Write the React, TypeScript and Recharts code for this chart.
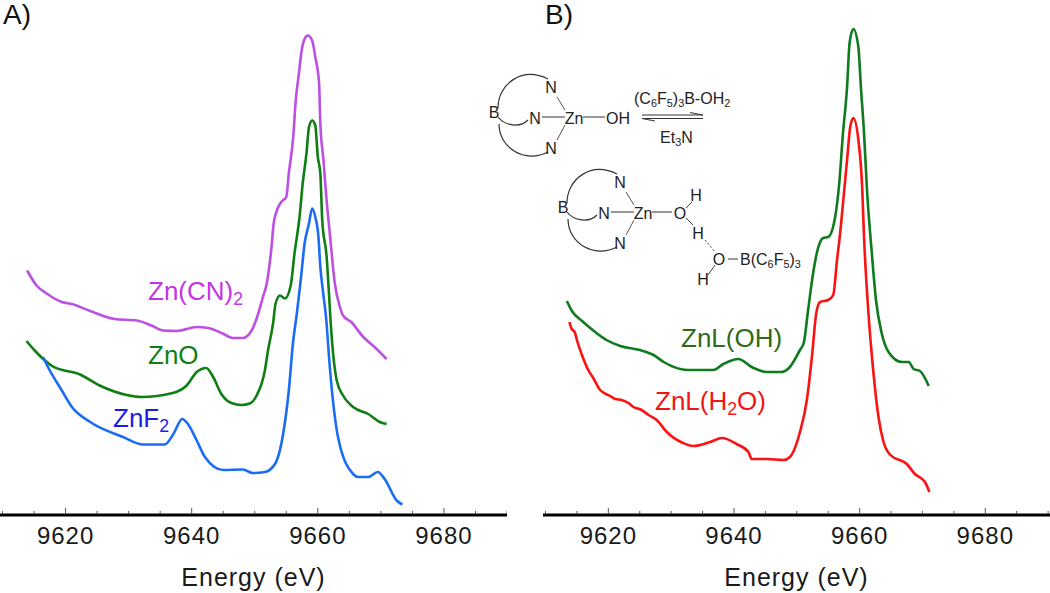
import React from 'react';
import { LineChart, Line, XAxis, YAxis } from 'recharts';

// Zn K-edge XAS traces, signal is in arbitrary units (offset for display)
const tickEnergies = [9610, 9615, 9620, 9625, 9630, 9635, 9640, 9645, 9650, 9655, 9660, 9665, 9670, 9675, 9680, 9685, 9690];
const labelledTicks = [9620, 9640, 9660, 9680];

const znCnEnergy = [9613.9, 9615.4, 9617.0, 9619.4, 9621.0, 9623.9, 9627.8, 9631.3, 9633.6, 9635.5, 9637.6, 9640.8, 9642.6, 9644.9, 9646.5, 9648.1, 9649.5, 9650.3, 9651.3, 9651.9, 9652.6, 9653.0, 9653.5, 9654.2, 9655.0, 9655.4, 9656.1, 9656.5, 9657.0, 9657.4, 9657.9, 9658.4, 9659.1, 9659.6, 9660.2, 9660.4, 9660.9, 9661.3, 9661.9, 9662.7, 9663.5, 9664.0, 9665.3, 9667.2, 9669.0, 9670.9];
const znCnSignal = [244.5, 229.5, 221.5, 213, 211, 204, 196, 194.5, 189.5, 184.5, 184, 188, 187, 181.5, 177, 177, 184.5, 196.5, 218, 231.5, 264.5, 291.5, 304.5, 313, 318, 341.5, 378, 414.5, 441.5, 463, 476, 479.5, 474.5, 458, 431.5, 391.5, 354.5, 321.5, 281.5, 231.5, 208, 199.5, 193, 178, 168, 156];

const znOEnergy = [9613.8, 9615.1, 9618.0, 9622.3, 9625.4, 9629.7, 9632.0, 9637.0, 9639.2, 9640.8, 9642.3, 9643.4, 9644.7, 9646.3, 9647.9, 9649.2, 9650.3, 9651.6, 9652.1, 9652.9, 9653.3, 9654.0, 9654.8, 9655.7, 9656.3, 9657.1, 9657.6, 9658.2, 9658.6, 9659.1, 9659.6, 9660.0, 9660.4, 9660.7, 9661.4, 9661.8, 9662.0, 9663.0, 9664.0, 9665.6, 9668.0, 9669.8, 9670.9];
const znOSignal = [174, 164.5, 148.5, 140.5, 129.5, 120, 118, 122, 129.5, 143, 147, 138, 121, 112, 110, 111.5, 119.5, 144.5, 164.5, 191.5, 211.5, 219.5, 216.5, 229.5, 261.5, 298, 331.5, 361.5, 388, 394.5, 389.5, 358, 341.5, 294.5, 258, 218, 196.5, 134.5, 119.5, 108, 101, 93, 91];

const znF2Energy = [9616.4, 9617.5, 9619.4, 9621.0, 9623.9, 9629.1, 9632.3, 9635.7, 9637.1, 9638.5, 9639.4, 9640.8, 9642.1, 9645.0, 9648.1, 9649.7, 9651.6, 9653.2, 9654.5, 9655.4, 9656.1, 9656.6, 9657.4, 9657.9, 9658.6, 9659.1, 9659.6, 9660.1, 9660.4, 9660.8, 9661.3, 9661.9, 9663.2, 9665.6, 9666.4, 9668.0, 9669.5, 9670.6, 9672.5, 9673.4];
const znF2Signal = [158, 144.5, 124.5, 108, 93, 78, 70.5, 70.5, 81, 96, 91, 74.5, 58, 45, 45.5, 42, 43, 51, 81, 124.5, 174.5, 198, 241.5, 271.5, 291.5, 306.5, 298, 278, 248, 224.5, 198, 148, 78, 41, 38, 38, 43, 36, 14.5, 10.5];

const znLOhEnergy = [9613.4, 9614.2, 9616.0, 9617.9, 9619.7, 9621.9, 9625.0, 9627.2, 9628.8, 9632.7, 9636.7, 9638.3, 9640.7, 9642.8, 9645.2, 9647.6, 9648.9, 9650.5, 9651.1, 9651.8, 9652.6, 9653.3, 9654.2, 9655.0, 9656.1, 9656.8, 9657.3, 9658.0, 9658.4, 9659.0, 9659.8, 9660.2, 9660.7, 9661.2, 9661.9, 9662.6, 9663.5, 9664.6, 9666.7, 9667.8, 9668.6, 9669.6, 9671.0];
const znLOhSignal = [214, 204, 193, 183, 175, 169, 165, 160, 153, 145, 145, 151, 156, 148, 143, 143, 148, 165, 172, 205, 242, 265, 277, 278, 298, 335, 378, 428, 472, 486, 468, 428, 382, 322, 265, 215, 182, 163, 153, 153, 146, 144, 129];

const znLH2oEnergy = [9613.8, 9614.1, 9614.7, 9615.0, 9615.8, 9616.8, 9617.6, 9618.7, 9620.3, 9621.1, 9622.1, 9623.2, 9624.0, 9625.3, 9626.4, 9627.7, 9629.3, 9631.9, 9633.5, 9636.2, 9638.1, 9640.4, 9642.3, 9642.8, 9645.2, 9647.9, 9648.9, 9650.5, 9651.6, 9652.4, 9653.1, 9653.7, 9655.0, 9655.8, 9656.4, 9656.9, 9657.4, 9658.0, 9658.5, 9659.0, 9659.8, 9660.4, 9660.7, 9661.4, 9662.2, 9663.0, 9663.8, 9664.9, 9667.5, 9668.8, 9670.4, 9671.1];
const znLH2oSignal = [193, 187, 182, 175, 160, 145, 137, 125, 119, 116, 115, 112, 108, 105, 100, 95, 83, 72, 69, 73, 77, 71, 63, 56, 56, 55, 58, 83, 115, 158, 202, 213, 215, 220, 255, 282, 315, 355, 388, 397, 375, 328, 278, 202, 142, 98, 73, 60, 51, 41, 33, 23];

const toRows = (energy: number[], signal: number[]) =>
  energy.map((e, i) => ({ energy: e, signal: signal[i] }));

const SANS = '"Liberation Sans", Arial, sans-serif';

const EnergyTick = (props: any) => {
  const { x, y, payload } = props;
  const major = labelledTicks.includes(payload.value);
  return (
    <g>
      <line x1={x} x2={x} y1={y - 1} y2={y - (major ? 7 : 4)} stroke="#555" strokeWidth={1} />
      {major && (
        <text x={x} y={y + 29} textAnchor="middle" fontFamily={SANS} fontSize={24} letterSpacing={1} fill="#1a1a1a">
          {payload.value}
        </text>
      )}
    </g>
  );
};

const Panel = ({ left, domain, series }: { left: number; domain: number[]; series: { rows: any[]; color: string; name: string }[] }) => (
  <div style={{ position: 'absolute', left, top: 0 }}>
    <LineChart width={507} height={593} margin={{ top: 0, right: 0, bottom: 0, left: 0 }}>
      <XAxis
        dataKey="energy"
        type="number"
        domain={domain}
        allowDataOverflow
        ticks={tickEnergies}
        interval={0}
        height={78}
        tickLine={false}
        tickSize={0}
        tickMargin={0}
        tick={<EnergyTick />}
        axisLine={{ stroke: '#000', strokeWidth: 3 }}
        label={{ value: 'Energy (eV)', position: 'insideBottom', offset: 7, fontFamily: SANS, fontSize: 25, letterSpacing: 1, fill: '#1a1a1a' }}
      />
      <YAxis hide domain={[0, 515]} />
      {series.map((s) => (
        <Line
          key={s.name}
          data={s.rows}
          dataKey="signal"
          name={s.name}
          type="monotone"
          stroke={s.color}
          strokeWidth={2.6}
          dot={false}
          activeDot={false}
          isAnimationActive={false}
        />
      ))}
    </LineChart>
  </div>
);

const leftSeries = [
  { name: 'Zn(CN)2', color: '#bb50e2', rows: toRows(znCnEnergy, znCnSignal) },
  { name: 'ZnO', color: '#0f7f14', rows: toRows(znOEnergy, znOSignal) },
  { name: 'ZnF2', color: '#1a6cf5', rows: toRows(znF2Energy, znF2Signal) },
];
const rightSeries = [
  { name: 'ZnL(OH)', color: '#107a1e', rows: toRows(znLOhEnergy, znLOhSignal) },
  { name: 'ZnL(H2O)', color: '#fb1212', rows: toRows(znLH2oEnergy, znLH2oSignal) },
];

// tris(pyrazolyl)borate cartoon, drawn around Zn with the ligand arcs
const Ligand = ({ dx, dy }: { dx: number; dy: number }) => (
  <g transform={`translate(${dx} ${dy})`}>
    <path d="M498 108 C498 84 522 66 548 79" fill="none" stroke="#333" strokeWidth={1.2} />
    <path d="M498 117 C505 126 520 128 528 120" fill="none" stroke="#333" strokeWidth={1.2} />
    <path d="M499 124 C499 148 525 164 548 152" fill="none" stroke="#333" strokeWidth={1.2} />
    <line x1={542} y1={117} x2={565} y2={117} stroke="#333" strokeWidth={1} />
    <line x1={557} y1={97} x2={565} y2={110} stroke="#555" strokeWidth={1} />
    <line x1={557} y1={140} x2={565} y2={125} stroke="#555" strokeWidth={1} />
    <text x={494} y={118} textAnchor="middle">B</text>
    <text x={551} y={93} textAnchor="middle">N</text>
    <text x={535} y={124} textAnchor="middle">N</text>
    <text x={551} y={154} textAnchor="middle">N</text>
    <text x={574} y={124} textAnchor="middle">Zn</text>
  </g>
);

const Sub = ({ children }: { children: React.ReactNode }) => (
  <tspan dy="0.3em" fontSize="0.68em">{children}</tspan>
);
const Up = ({ children, dy = '-0.2em' }: { children: React.ReactNode; dy?: string }) => (
  <tspan dy={dy}>{children}</tspan>
);

const Annotations = () => (
  <svg width={1050} height={593} style={{ position: 'absolute', left: 0, top: 0, pointerEvents: 'none' }} fontFamily={SANS}>
    <text x={3} y={24} fontSize={28} fill="#111">A)</text>
    <text x={545} y={24} fontSize={28} fill="#111">B)</text>

    <g fontSize={26}>
      <text x={148} y={300} fill="#c435e6">Zn(CN)<Sub>2</Sub></text>
      <text x={148} y={364} fill="#0f7f14">ZnO</text>
      <text x={113} y={427} fill="#1c1ce6">ZnF<Sub>2</Sub></text>
      <text x={681} y={347} fill="#2f6b18">ZnL(OH)</text>
      <text x={655} y={410} fill="#f01515">ZnL(H<Sub>2</Sub><Up>O)</Up></text>
    </g>

    <g fontSize={16} fill="#222">
      <Ligand dx={0} dy={0} />
      <line x1={583} y1={117} x2={605} y2={117} stroke="#333" strokeWidth={1} />
      <text x={618} y={124} textAnchor="middle">OH</text>
      <text x={634} y={104}>(C<Sub>6</Sub><Up>F</Up><Sub>5</Sub><Up>)</Up><Sub>3</Sub><Up>B-OH</Up><Sub>2</Sub></text>
      <text x={660} y={143}>Et<Sub>3</Sub><Up>N</Up></text>
      <path d="M642 115 H703 L690 112.5" fill="none" stroke="#333" strokeWidth={1} />
      <path d="M703 118.5 H642 L655 121" fill="none" stroke="#333" strokeWidth={1} />

      <Ligand dx={69} dy={95} />
      <line x1={652} y1={212} x2={672} y2={212} stroke="#333" strokeWidth={1} />
      <text x={680} y={219} textAnchor="middle">O</text>
      <line x1={686} y1={208} x2={692} y2={202} stroke="#444" strokeWidth={1} />
      <text x={696} y={201} textAnchor="middle">H</text>
      <line x1={686} y1={218} x2={693} y2={225} stroke="#444" strokeWidth={1} />
      <text x={698} y={239} textAnchor="middle">H</text>
      <line x1={705} y1={240} x2={715} y2={252} stroke="#444" strokeWidth={1} strokeDasharray="2 2" />
      <text x={719} y={265} textAnchor="middle">O</text>
      <line x1={728} y1={259} x2={738} y2={259} stroke="#333" strokeWidth={1} />
      <text x={740} y={265}>B(C<Sub>6</Sub><Up>F</Up><Sub>5</Sub><Up>)</Up><Sub>3</Sub></text>
      <line x1={715} y1={265} x2={708} y2={275} stroke="#444" strokeWidth={1} />
      <text x={703} y={285} textAnchor="middle">H</text>
    </g>
  </svg>
);

export default function App() {
  return (
    <div style={{ position: 'absolute', left: 0, top: 0, width: 1050, height: 593, overflow: 'hidden', background: '#fff' }}>
      <Panel left={0} domain={[9609.6, 9690]} series={leftSeries} />
      <Panel left={543} domain={[9609.6, 9690.3]} series={rightSeries} />
      <Annotations />
    </div>
  );
}
